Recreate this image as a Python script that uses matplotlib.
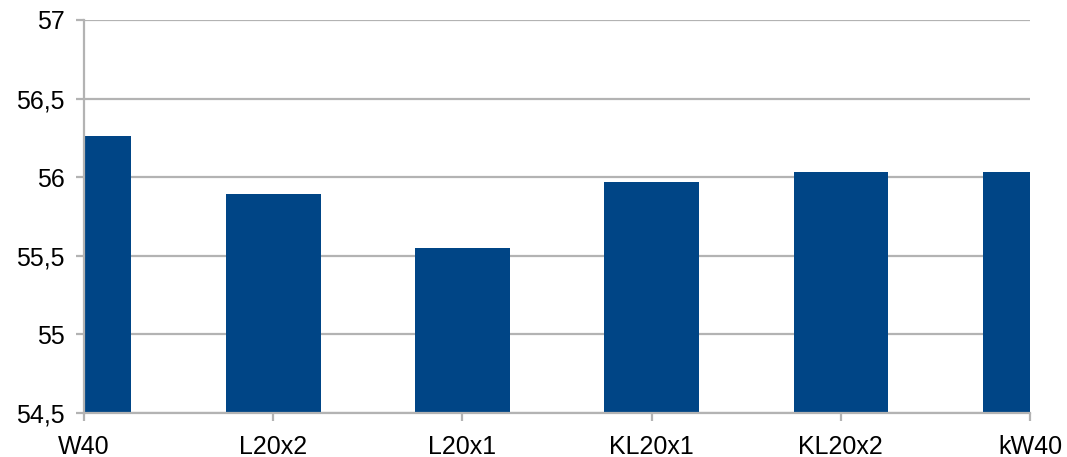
import matplotlib
matplotlib.use("Agg")
import matplotlib.pyplot as plt

categories = ["W40", "L20x2", "L20x1", "KL20x1", "KL20x2", "kW40"]
values = [56.26, 55.89, 55.55, 55.97, 56.03, 56.03]
y_ticks = [54.5, 55, 55.5, 56, 56.5, 57]
y_tick_labels = ["54,5", "55", "55,5", "56", "56,5", "57"]

plt.rcParams["font.family"] = ["Liberation Sans", "DejaVu Sans"]

fig = plt.figure(figsize=(10.67, 4.57), dpi=100)
ax = fig.add_axes([84 / 1067, 1 - 413 / 457, (1030 - 84) / 1067, (413 - 20) / 457])

x = list(range(len(categories)))
ax.bar(x, [v - 54.5 for v in values], bottom=54.5, width=0.5, color="#004586", zorder=2)

ax.set_xlim(0, len(categories) - 1)
ax.set_ylim(54.5, 57)
ax.set_yticks(y_ticks)
ax.set_yticklabels(y_tick_labels, fontsize=18)
ax.set_xticks(x)
ax.set_xticklabels(categories, fontsize=18)

ax.grid(axis="y", color="#b3b3b3", linewidth=1.6, zorder=1)
ax.set_axisbelow(True)
for side in ("top", "right"):
    ax.spines[side].set_visible(False)
for side in ("left", "bottom"):
    ax.spines[side].set_color("#b3b3b3")
    ax.spines[side].set_linewidth(1.6)
ax.tick_params(axis="both", colors="#b3b3b3", labelcolor="black", width=1.6, length=5.5)
ax.tick_params(axis="y", pad=8.5)
ax.tick_params(axis="x", pad=10)

fig.savefig("out.png", dpi=100)
